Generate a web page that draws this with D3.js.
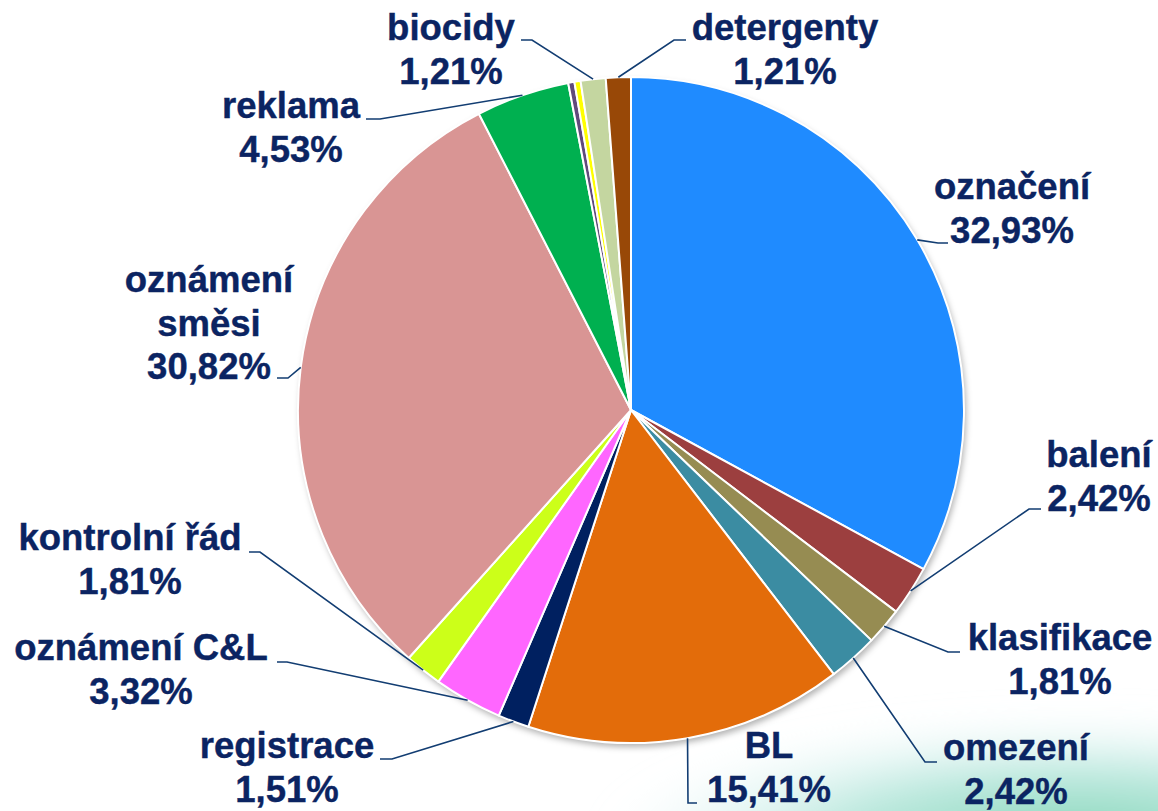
<!DOCTYPE html>
<html>
<head>
<meta charset="utf-8">
<script src="https://d3js.org/d3.v7.min.js"></script>
<style>
  html, body { margin: 0; padding: 0; background: #fff; }
  svg { display: block; }
</style>
</head>
<body>
<svg></svg>
<script>
  // counts out of 331 answers, read from the percentages
  var names = ["označení", "balení", "klasifikace", "omezení", "BL", "registrace",
               "oznámení C&L", "kontrolní řád", "oznámení směsi", "reklama",
               "", "", "biocidy", "detergenty"];
  var values = [32.93, 2.42, 1.81, 2.42, 15.41, 1.51, 3.32, 1.81, 30.82, 4.53, 0.30, 0.30, 1.21, 1.21];
  var pctLabels = ["32,93%", "2,42%", "1,81%", "2,42%", "15,41%", "1,51%", "3,32%", "1,81%",
                   "30,82%", "4,53%", "", "", "1,21%", "1,21%"];
  var colors = ["#1f8bff", "#9c3f3f", "#968c52", "#3b8ca2", "#e36c0a", "#002060",
                "#ff66ff", "#ccff19", "#d99594", "#00b050", "#604a7b", "#ffff00",
                "#c4d6a0", "#984807"];

  // label layout: text center x, first baseline, leader end at text, elbow
  var labelLayout = [
    {x: 1012, y: 199, lines: ["označení"],        end: [948, 243], elbow: [938, 243]},
    {x: 1099, y: 467, lines: ["balení"],          end: [1041, 509], elbow: [1029, 509]},
    {x: 1060, y: 650, lines: ["klasifikace"],     end: [960, 652], elbow: [948, 652]},
    {x: 1016, y: 760, lines: ["omezení"],         end: [937, 762], elbow: [925, 762]},
    {x: 769,  y: 758, lines: ["BL"],              end: [697, 803], elbow: [688, 803]},
    {x: 287,  y: 758, lines: ["registrace"],      end: [380, 759], elbow: [392, 759]},
    {x: 141,  y: 660, lines: ["oznámení C&L"],    end: [277, 662], elbow: [287, 662]},
    {x: 130,  y: 550, lines: ["kontrolní řád"],   end: [249, 552], elbow: [260, 552]},
    {x: 209,  y: 292, lines: ["oznámení", "směsi"], end: [277, 378], elbow: [288, 378]},
    {x: 291,  y: 118, lines: ["reklama"],         end: [366, 119], elbow: [380, 119]},
    null,
    null,
    {x: 451,  y: 40,  lines: ["biocidy"],         end: [521, 40], elbow: [532, 40]},
    {x: 785,  y: 40,  lines: ["detergenty"],      end: [686, 40], elbow: [674, 40]}
  ];

  var width = 1158, height = 811;
  var cx = 631, cy = 410, radius = 333;
  var lineH = 43.5;

  var svg = d3.select("svg")
      .attr("width", width)
      .attr("height", height);

  var defs = svg.append("defs");

  var bg = defs.append("radialGradient")
      .attr("id", "bgGlow")
      .attr("cx", "50%").attr("cy", "50%").attr("r", "50%");
  bg.append("stop").attr("offset", "0%").attr("stop-color", "#86d6b8").attr("stop-opacity", 1);
  bg.append("stop").attr("offset", "50%").attr("stop-color", "#a9e2d4").attr("stop-opacity", 0.8);
  bg.append("stop").attr("offset", "100%").attr("stop-color", "#dff4f6").attr("stop-opacity", 0);

  var blur = defs.append("filter").attr("id", "soft")
      .attr("x", "-30%").attr("y", "-30%").attr("width", "160%").attr("height", "160%");
  blur.append("feGaussianBlur").attr("stdDeviation", 16);

  var shadow = defs.append("filter").attr("id", "shadow")
      .attr("x", "-10%").attr("y", "-10%").attr("width", "120%").attr("height", "120%");
  shadow.append("feDropShadow")
      .attr("dx", 2).attr("dy", 4)
      .attr("stdDeviation", 3)
      .attr("flood-color", "#000")
      .attr("flood-opacity", 0.3);

  // green glow in the bottom right corner
  svg.append("ellipse")
      .attr("cx", 1080).attr("cy", 840)
      .attr("rx", 480).attr("ry", 125)
      .attr("fill", "url(#bgGlow)")
      .attr("filter", "url(#soft)");

  var pie = d3.pie()
      .sort(null)
      .value(function(d) { return d; });
  var arcs = pie(values);

  var arc = d3.arc()
      .innerRadius(0)
      .outerRadius(radius);

  var g = svg.append("g")
      .attr("transform", "translate(" + cx + "," + cy + ")");

  g.append("circle")
      .attr("r", radius)
      .attr("fill", "#fff")
      .attr("filter", "url(#shadow)");

  g.selectAll("path.slice")
      .data(arcs)
      .enter().append("path")
      .attr("class", "slice")
      .attr("d", arc)
      .attr("fill", function(d, i) { return colors[i]; })
      .attr("stroke", "#fff")
      .attr("stroke-width", 2)
      .attr("stroke-linejoin", "round");

  // leader lines, touching the rim at the middle of each slice
  var edge = d3.arc().innerRadius(radius).outerRadius(radius);
  arcs.forEach(function(d, i) {
    var lay = labelLayout[i];
    if (!lay) return;
    var p = edge.centroid(d);
    var pts = [lay.end, lay.elbow, [p[0] + cx, p[1] + cy]];
    svg.append("path")
        .attr("d", d3.line()(pts))
        .attr("fill", "none")
        .attr("stroke", "#123d72")
        .attr("stroke-width", 1.6);
  });

  // labels
  arcs.forEach(function(d, i) {
    var lay = labelLayout[i];
    if (!lay) return;
    var lines = lay.lines.concat([pctLabels[i]]);
    var t = svg.append("text")
        .attr("x", lay.x)
        .attr("y", lay.y)
        .attr("text-anchor", "middle")
        .attr("fill", "#0b2462")
        .attr("stroke", "#0b2462")
        .attr("stroke-width", 0.4)
        .style("font-family", "'Liberation Sans', Arial, sans-serif")
        .style("font-weight", "bold")
        .style("font-size", "36.5px");
    lines.forEach(function(s, k) {
      t.append("tspan")
          .attr("x", lay.x)
          .attr("y", lay.y + k * lineH)
          .text(s);
    });
  });
</script>
</body>
</html>
